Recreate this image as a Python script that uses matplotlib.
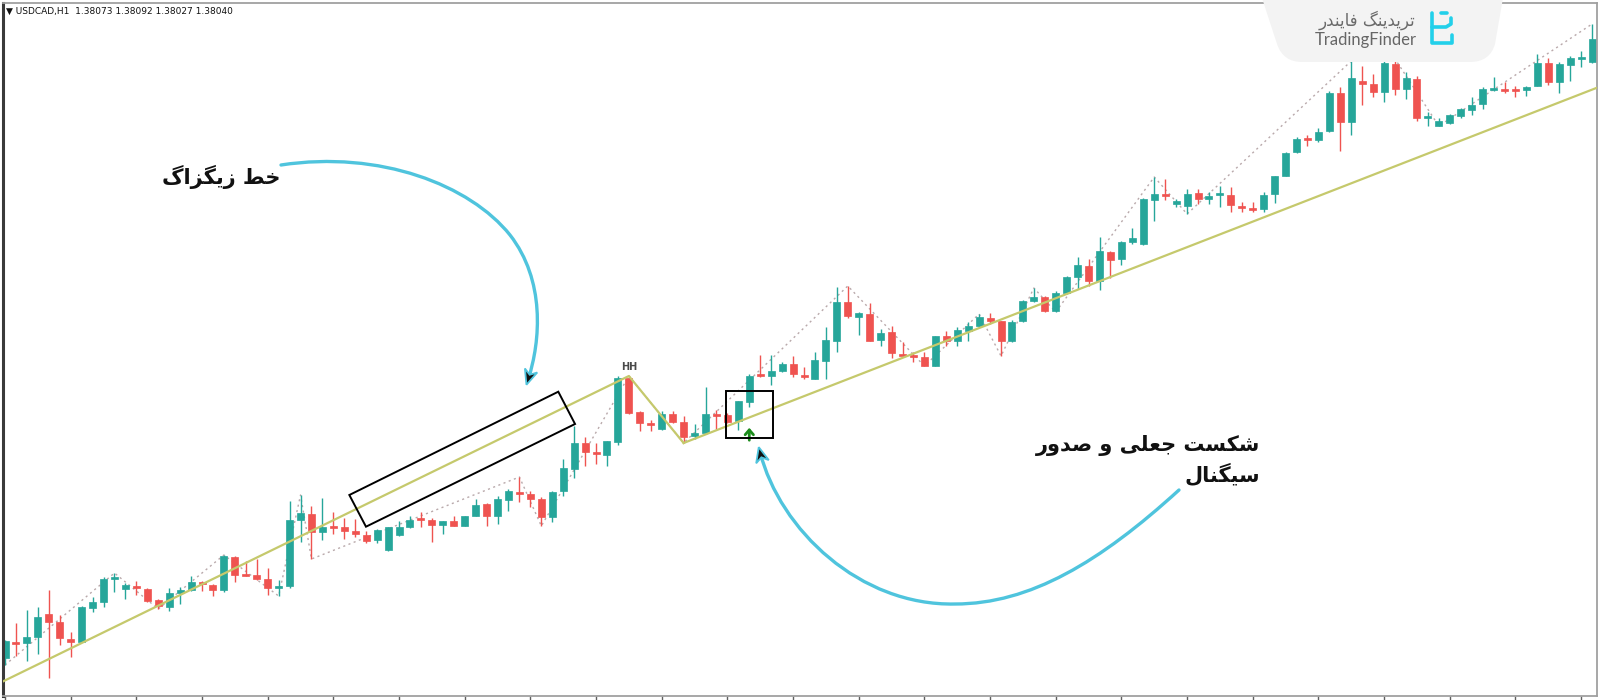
import matplotlib
matplotlib.use("Agg")
import matplotlib.pyplot as plt
import matplotlib.transforms as mtransforms
from matplotlib.patches import Rectangle, Polygon, PathPatch
from matplotlib.path import Path
import numpy as np

# USDCAD H1 candles, price in points above the chart floor
opens = [41, 57, 56, 62, 85, 77, 60, 57, 91, 97, 120, 110, 113, 110, 99, 92, 106, 109, 117, 114,
         109, 142, 125, 124, 120, 111, 113, 179, 185, 167, 173, 172, 168, 164, 159, 149, 164, 172, 180, 179,
         174, 178, 173, 183, 195, 183, 199, 207, 205, 200, 182, 208, 230, 256, 247, 244, 257, 321, 287, 276,
         270, 285, 277, 263, 266, 285, 284, 278, 297, 324, 323, 328, 335, 324, 320, 338, 358, 397, 382, 385,
         359, 367, 345, 344, 342, 333, 363, 358, 368, 373, 381, 378, 358, 378, 398, 402, 388, 406, 422, 433,
         418, 447, 440, 457, 455, 499, 505, 495, 493, 506, 500, 504, 504, 493, 491, 490, 505, 523, 547, 561,
         559, 568, 606, 577, 618, 615, 607, 635, 610, 620, 581, 573, 576, 583, 589, 595, 609, 610, 610, 609,
         613, 636, 617, 634, 640, 637]
highs = [59, 76, 89, 92, 109, 84, 67, 93, 102, 122, 126, 116, 118, 111, 100, 111, 112, 123, 118, 115,
         144, 143, 138, 140, 131, 119, 198, 204, 193, 201, 187, 181, 180, 168, 170, 172, 178, 183, 187, 181,
         178, 183, 183, 200, 196, 203, 210, 222, 208, 202, 208, 240, 273, 262, 256, 258, 323, 323, 288, 279,
         288, 288, 283, 275, 312, 289, 286, 298, 325, 344, 344, 337, 343, 332, 347, 372, 412, 413, 387, 396,
         370, 373, 357, 347, 347, 363, 368, 372, 377, 385, 386, 378, 379, 399, 411, 403, 408, 423, 442, 440,
         462, 448, 458, 471, 501, 522, 520, 500, 510, 510, 507, 513, 512, 497, 497, 507, 523, 547, 562, 564,
         571, 608, 612, 638, 633, 625, 640, 640, 627, 623, 587, 581, 585, 591, 602, 612, 622, 617, 613, 613,
         645, 641, 637, 643, 648, 675]
lows = [34, 43, 38, 45, 21, 54, 42, 57, 87, 92, 107, 100, 104, 97, 90, 88, 95, 108, 108, 103,
        107, 117, 123, 119, 104, 103, 111, 157, 140, 159, 165, 160, 162, 156, 156, 148, 163, 171, 172, 157,
        165, 173, 173, 183, 173, 175, 188, 197, 192, 173, 177, 203, 221, 233, 235, 233, 254, 285, 268, 268,
        269, 276, 256, 260, 265, 270, 276, 269, 292, 322, 314, 327, 322, 320, 320, 320, 347, 381, 364, 358,
        353, 341, 342, 337, 333, 333, 353, 353, 358, 372, 375, 343, 357, 377, 397, 387, 387, 405, 410, 413,
        409, 421, 434, 455, 454, 478, 499, 492, 485, 495, 495, 492, 487, 487, 487, 487, 496, 523, 546, 553,
        557, 567, 548, 564, 594, 602, 597, 604, 600, 578, 573, 573, 575, 581, 584, 590, 608, 606, 602, 603,
        613, 614, 606, 618, 632, 636]
closes = [58, 55, 62, 82, 77, 61, 57, 92, 97, 120, 122, 114, 111, 98, 93, 106, 109, 117, 115, 109,
          143, 124, 123, 120, 111, 113, 179, 186, 167, 172, 171, 168, 165, 158, 169, 172, 172, 179, 179, 174,
          178, 173, 183, 194, 183, 200, 208, 205, 200, 182, 207, 231, 256, 247, 245, 258, 321, 286, 276, 274,
          285, 277, 262, 266, 285, 283, 277, 298, 323, 323, 328, 335, 325, 322, 339, 359, 397, 383, 386, 358,
          366, 346, 343, 342, 333, 363, 358, 369, 373, 382, 378, 358, 377, 398, 402, 388, 406, 422, 434, 418,
          448, 439, 457, 461, 500, 505, 503, 498, 505, 500, 503, 505, 494, 491, 489, 504, 523, 546, 560, 559,
          567, 606, 577, 621, 615, 607, 636, 610, 621, 581, 583, 578, 584, 590, 594, 610, 611, 608, 608, 612,
          636, 617, 635, 641, 641, 660]

# zigzag pivots (candle index, high/low)
zz_index = [0, 10, 14, 20, 25, 27, 28, 47, 49, 57, 62, 77, 84, 89, 91, 94, 96, 105, 108, 123, 127, 131, 145]
zz_kind = ["L", "H", "L", "H", "L", "H", "L", "H", "L", "H", "L", "H", "L", "H", "L", "H", "L", "H", "L",
           "H", "H", "L", "H"]

# major zigzag leg and the trend line drawn from the last low
major_x = [-0.2, 57, 62]
major_y = [17.5, 323, 256]
trend_x = [62, 145.5]
trend_y = [256, 611.5]

hh_index = 57
signal_index = 68

# highlight boxes (candle index, price)
slant_box_x = [31.46, 50.55, 52.08, 32.98]
slant_box_y = [204, 307.3, 275, 172.3]
signal_box = (65.85, 260.7, 4.3, 47)

title_text = "\u25bc USDCAD,H1  1.38073 1.38092 1.38027 1.38040"
label_zigzag = "خط زیگزاگ"
label_signal = ["شکست جعلی و صدور", "سیگنال"]
logo_fa = "تریدینگ فایندر"
logo_en = "TradingFinder"

GREEN = "#26a69a"
RED = "#ef5350"
CYAN = "#4fc4dd"

# --- minimal persian shaping (matplotlib has no bidi / joining) ---
DUAL = {
    "ت": (0xFE95, 0xFE96, 0xFE97, 0xFE98), "ج": (0xFE9D, 0xFE9E, 0xFE9F, 0xFEA0),
    "خ": (0xFEA5, 0xFEA6, 0xFEA7, 0xFEA8), "س": (0xFEB1, 0xFEB2, 0xFEB3, 0xFEB4),
    "ش": (0xFEB5, 0xFEB6, 0xFEB7, 0xFEB8), "ص": (0xFEB9, 0xFEBA, 0xFEBB, 0xFEBC),
    "ط": (0xFEC1, 0xFEC2, 0xFEC3, 0xFEC4), "ع": (0xFEC9, 0xFECA, 0xFECB, 0xFECC),
    "ف": (0xFED1, 0xFED2, 0xFED3, 0xFED4), "ل": (0xFEDD, 0xFEDE, 0xFEDF, 0xFEE0),
    "ن": (0xFEE5, 0xFEE6, 0xFEE7, 0xFEE8), "ک": (0xFB8E, 0xFB8F, 0xFB90, 0xFB91),
    "گ": (0xFB92, 0xFB93, 0xFB94, 0xFB95), "ی": (0xFBFC, 0xFBFD, 0xFBFE, 0xFBFF),
}
RIGHT = {
    "ا": (0xFE8D, 0xFE8E), "د": (0xFEA9, 0xFEAA), "ر": (0xFEAD, 0xFEAE),
    "ز": (0xFEAF, 0xFEB0), "و": (0xFEED, 0xFEEE),
}


def shape_fa(text):
    out = []
    for i, ch in enumerate(text):
        if ch not in DUAL and ch not in RIGHT:
            out.append(ch)
            continue
        prev = text[i - 1] if i > 0 else ""
        nxt = text[i + 1] if i + 1 < len(text) else ""
        join_prev = prev in DUAL
        join_next = ch in DUAL and (nxt in DUAL or nxt in RIGHT)
        if ch in RIGHT:
            out.append(chr(RIGHT[ch][1 if join_prev else 0]))
        else:
            iso, fin, ini, med = DUAL[ch]
            if join_prev and join_next:
                out.append(chr(med))
            elif join_prev:
                out.append(chr(fin))
            elif join_next:
                out.append(chr(ini))
            else:
                out.append(chr(iso))
    return "".join(reversed(out))


W, H = 1600, 700
fig = plt.figure(figsize=(16, 7), dpi=100)
fig.patch.set_facecolor("white")
# pixel transform for the hand drawn callouts (y downwards)
pix = mtransforms.Affine2D().scale(1 / W, -1 / H).translate(0, 1) + fig.transFigure

ax = fig.add_axes([3 / W, 4 / H, 1594 / W, 693 / H])
ax.set_xlim(-0.183, 145.45)
ax.set_ylim(3, 696)

n = len(opens)
body_w = 0.64
for i in range(n):
    o, h, l, c = opens[i], highs[i], lows[i], closes[i]
    col = GREEN if c >= o else RED
    ax.vlines(i, l, h, color=col, lw=1, zorder=2)
    bot = min(o, c)
    hgt = max(abs(c - o), 1.6)
    ax.add_patch(Rectangle((i - body_w / 2, bot), body_w, hgt, facecolor=col, edgecolor=col,
                           lw=0.5, zorder=2.5))

# dotted zigzag
zz_y = [highs[i] if k == "H" else lows[i] for i, k in zip(zz_index, zz_kind)]
ax.plot(zz_index, zz_y, color="#b9a9ab", lw=1, ls=(0, (1.5, 2.5)), zorder=1.5)

# major zigzag leg + trend line
ax.plot(major_x, major_y, color="#c5c96c", lw=1.6, zorder=3)
ax.plot(trend_x, trend_y, color="#c5c96c", lw=1.6, zorder=3)

ax.annotate("HH", (hh_index, highs[hh_index]), xytext=(0, 3), textcoords="offset points",
            ha="center", va="bottom", fontsize=7, fontweight="bold", color="#4a4a4a", zorder=4)

ax.annotate("", xy=(signal_index, lows[signal_index] - 18), xytext=(signal_index, lows[signal_index] - 36),
            arrowprops=dict(arrowstyle="->,head_length=0.35,head_width=0.3", color="#1c8c1c", lw=2),
            zorder=4)

ax.add_patch(Polygon(list(zip(slant_box_x, slant_box_y)), closed=True, fill=False,
                     edgecolor="black", lw=1.4, zorder=4))
sx, sy, sw, sh = signal_box
ax.add_patch(Rectangle((sx, sy), sw, sh, fill=False, edgecolor="black", lw=1.4, zorder=4))

# frame like the terminal window
for side in ["left", "right", "top", "bottom"]:
    ax.spines[side].set_color("#a0a0a0")
    ax.spines[side].set_linewidth(1.3)
ax.spines["left"].set_color("#3a3a3a")
ax.spines["left"].set_linewidth(2.2)
ax.set_yticks([])
ax.set_xticks(range(0, n, 6))
ax.set_xticklabels([])
ax.tick_params(axis="x", direction="out", length=3, width=1, color="#606060")

ax.text(6, 11, title_text, transform=pix, fontsize=6.5, va="center", ha="left", color="#111111")


# --- cyan callout arrows ---
def curve_arrow(points, tip_dir):
    codes = [Path.MOVETO] + [Path.CURVE4] * (len(points) - 1)
    fig.add_artist(PathPatch(Path(points, codes), transform=pix, fill=False, edgecolor=CYAN,
                             lw=2.4, capstyle="round", zorder=5))
    tip = np.array(points[-1], dtype=float)
    d = np.array(tip_dir, dtype=float)
    d /= np.hypot(*d)
    p = np.array([-d[1], d[0]])
    tip = tip + d * 5
    base = tip - d * 15
    head = [tip, base + p * 6.5, tip - d * 10.5, base - p * 6.5]
    fig.add_artist(Polygon(head, closed=True, transform=pix, facecolor="#111111",
                           edgecolor=CYAN, lw=1.3, zorder=6))


curve_arrow([(281, 165), (380, 150), (470, 185), (510, 235),
             (545, 280), (541, 340), (528, 380)], (-13, 40))
curve_arrow([(1179, 490), (1100, 562), (1030, 604), (955, 604),
             (860, 606), (780, 530), (760, 452)], (-20, -78))

fa_font = ["DejaVu Sans"]
ax.text(221, 177, shape_fa(label_zigzag), transform=pix, fontsize=15, fontweight="bold",
        family=fa_font, ha="center", va="center", color="#111111")
ax.text(1260, 445, shape_fa(label_signal[0]), transform=pix, fontsize=15, fontweight="bold",
        family=fa_font, ha="right", va="center", color="#111111")
ax.text(1260, 475, shape_fa(label_signal[1]), transform=pix, fontsize=15, fontweight="bold",
        family=fa_font, ha="right", va="center", color="#111111")

# --- logo tab ---
logo_verts = [(1262, -2), (1277, 44), (1283, 62), (1302, 62), (1470, 62), (1490, 62), (1495, 44),
              (1503, -2), (1262, -2)]
logo_codes = [Path.MOVETO, Path.LINETO, Path.CURVE3, Path.CURVE3, Path.LINETO, Path.CURVE3,
              Path.CURVE3, Path.LINETO, Path.CLOSEPOLY]
fig.add_artist(PathPatch(Path(logo_verts, logo_codes), transform=pix, facecolor="#f3f3f3",
                         edgecolor="none", zorder=7))
fig.text(1367 / W, 1 - 20 / H, shape_fa(logo_fa), fontsize=12, color="#6a6a6a", ha="center",
         va="center", family=fa_font, fontweight="normal", zorder=8)
fig.text(1366 / W, 1 - 40 / H, logo_en, fontsize=12, color="#666666", ha="center", va="center",
         family=["Lato", "DejaVu Sans"], zorder=8)
icon_paths = [
    [(1432, 13), (1432, 43), (1452, 43), (1452, 35)],
    [(1432, 27), (1446, 27), (1451, 24), (1451, 18)],
    [(1441, 13), (1447, 13)],
]
for seg in icon_paths:
    xs = [p[0] for p in seg]
    ys = [p[1] for p in seg]
    fig.add_artist(plt.Line2D(xs, ys, transform=pix, color="#22d0ea", lw=2.6,
                              solid_capstyle="round", solid_joinstyle="round", zorder=8))

fig.savefig("out.png", dpi=100, facecolor="white")
